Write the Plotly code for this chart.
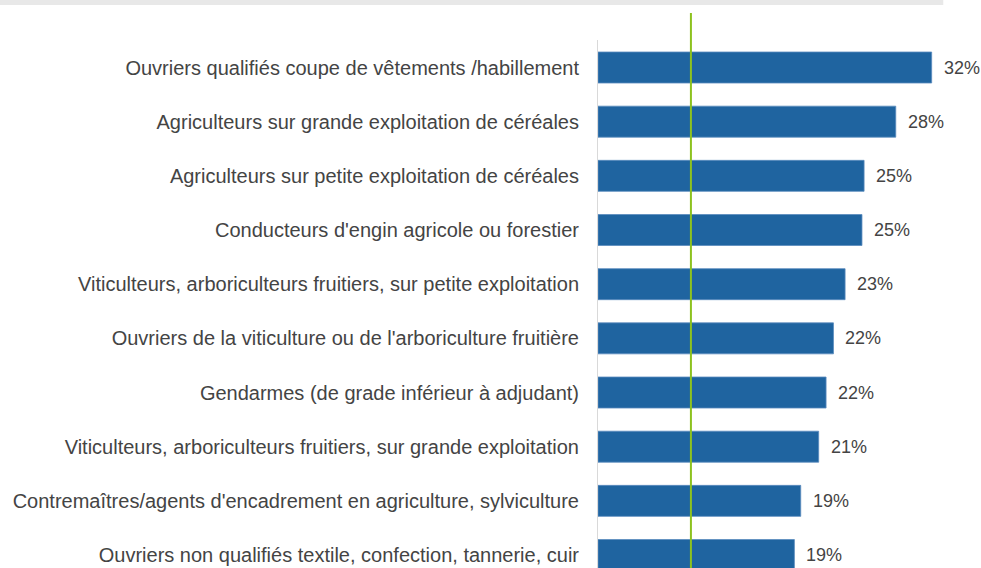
import plotly.graph_objects as go

categories = [
    "Ouvriers qualifiés coupe de vêtements /habillement",
    "Agriculteurs sur grande exploitation de céréales",
    "Agriculteurs sur petite exploitation de céréales",
    "Conducteurs d'engin agricole ou forestier",
    "Viticulteurs, arboriculteurs fruitiers, sur petite exploitation",
    "Ouvriers de la viticulture ou de l'arboriculture fruitière",
    "Gendarmes (de grade inférieur à adjudant)",
    "Viticulteurs, arboriculteurs fruitiers, sur grande exploitation",
    "Contremaîtres/agents d'encadrement en agriculture, sylviculture",
    "Ouvriers non qualifiés textile, confection, tannerie, cuir",
]
values = [31.6, 28.2, 25.2, 25.0, 23.4, 22.3, 21.6, 20.9, 19.2, 18.6]
labels = ["32%", "28%", "25%", "25%", "23%", "22%", "22%", "21%", "19%", "19%"]
moyenne = 8.8

W, H = 981, 568
left, top = 598, 40
px_per_unit = 10.55
xmax = 34
plot_w = xmax * px_per_unit
plot_h = H - top
step = 54.17
y_top = -27.5 / step
y_bottom = y_top + plot_h / step

FONT = "Liberation Sans, Arial, sans-serif"

fig = go.Figure()
fig.add_trace(go.Bar(
    x=values, y=list(range(len(categories))), orientation="h",
    marker=dict(color="#1F64A0", line=dict(color="#5A8CBE", width=0.8)),
    hoverinfo="skip", width=31 / step,
))

for i, (v, t) in enumerate(zip(values, labels)):
    fig.add_annotation(x=v, y=i, text=t, xref="x", yref="y", showarrow=False,
                       xanchor="left", xshift=10,
                       font=dict(family=FONT, size=18, color="#444444"))

fig.add_shape(type="line", xref="x", yref="paper", x0=moyenne, x1=moyenne,
              y0=0, y1=(H - 13) / plot_h, line=dict(color="#8DC21F", width=2))
fig.add_shape(type="rect", xref="paper", yref="paper",
              x0=-left / plot_w, x1=(943 - left) / plot_w,
              y0=(H - 5) / plot_h, y1=H / plot_h + 0.01,
              fillcolor="#E8E8E8", line=dict(width=0), layer="below")

fig.update_layout(
    width=W, height=H,
    margin=dict(l=left, r=W - left - plot_w, t=top, b=0),
    plot_bgcolor="white", paper_bgcolor="white",
    showlegend=False,
    xaxis=dict(range=[0, xmax], visible=False, fixedrange=True),
    yaxis=dict(range=[y_bottom, y_top], tickvals=list(range(len(categories))),
               ticktext=categories, showgrid=False, zeroline=False,
               showline=True, linecolor="#D9D9D9", linewidth=1,
               ticks="", ticklabelstandoff=14, automargin=False,
               tickfont=dict(family=FONT, size=20, color="#444444")),
)

fig.write_html("out.html", config={"displayModeBar": False},
               post_script="document.body.style.margin='0';document.body.style.overflow='hidden';")
